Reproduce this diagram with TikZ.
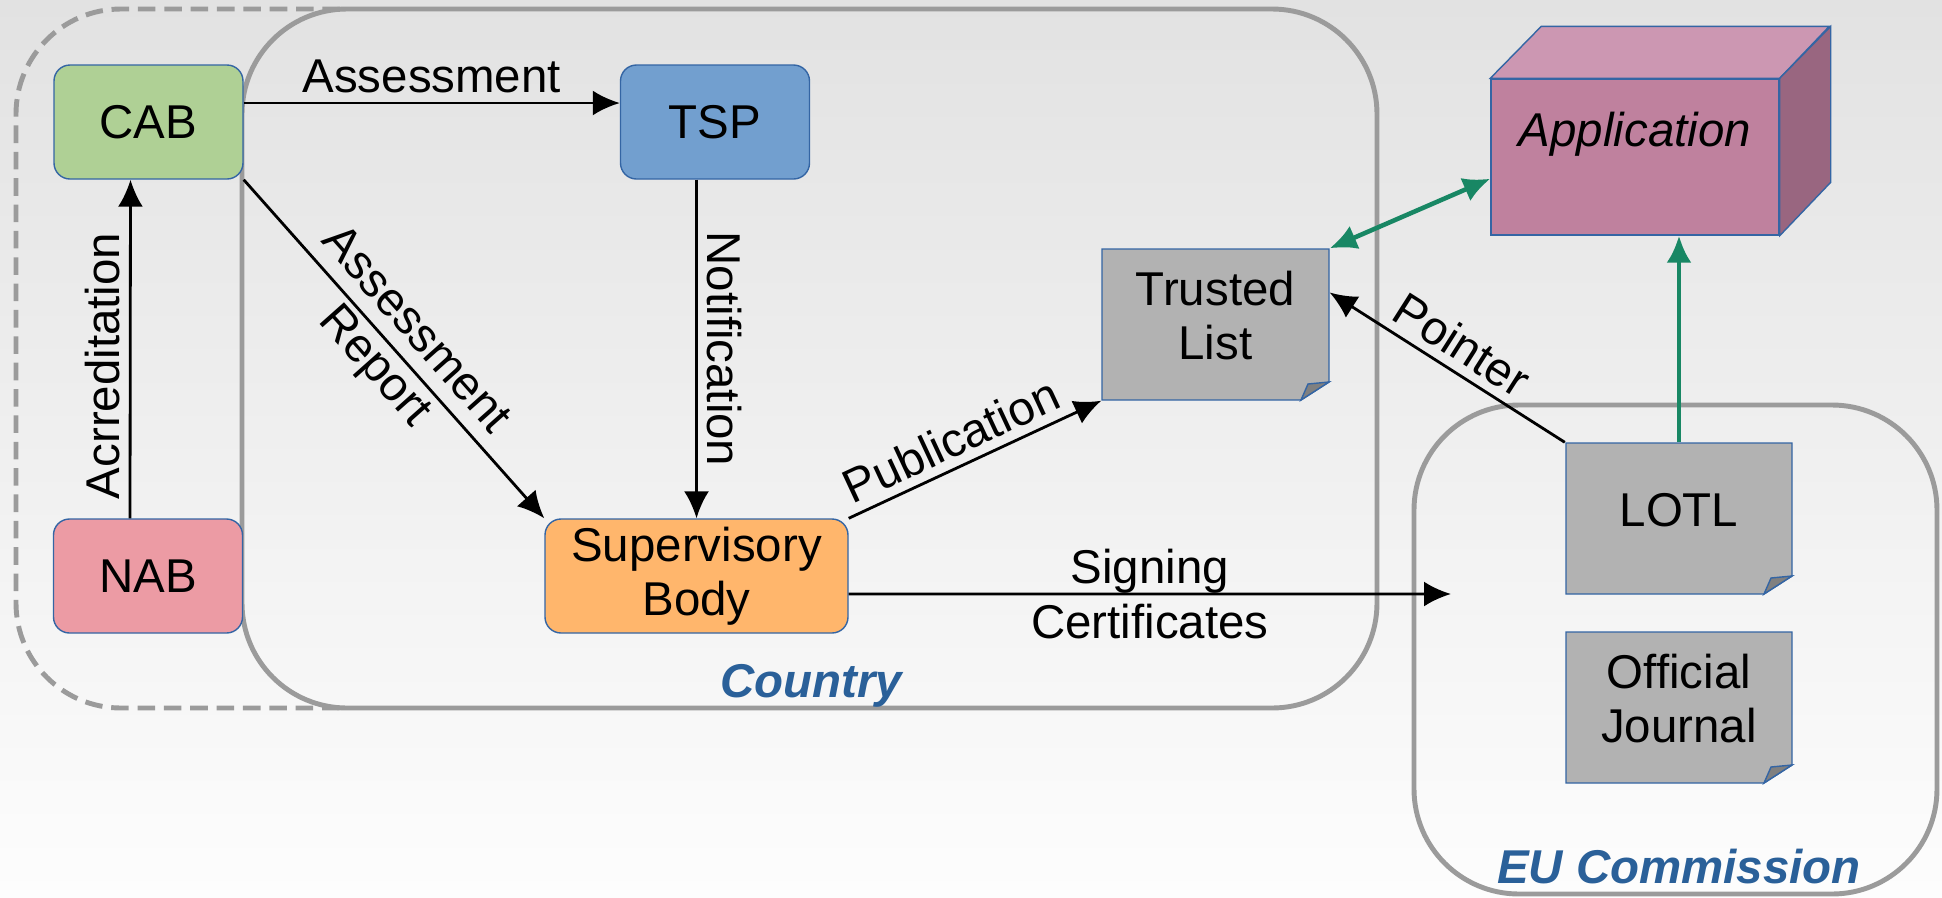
\documentclass[tikz,border=0pt]{standalone}
\usepackage{fontspec}
\setmainfont{Liberation Sans}
\usetikzlibrary{arrows.meta}

\definecolor{bgtop}{RGB}{226,226,226}
\definecolor{bgbot}{RGB}{253,253,253}
\definecolor{framegray}{RGB}{155,155,155}
\definecolor{edgeblue}{RGB}{52,101,164}
\definecolor{cabgreen}{RGB}{175,208,149}
\definecolor{tspblue}{RGB}{114,159,207}
\definecolor{nabred}{RGB}{236,155,164}
\definecolor{sborange}{RGB}{255,182,108}
\definecolor{docgray}{RGB}{178,178,178}
\definecolor{foldgray}{RGB}{128,128,128}
\definecolor{appfront}{RGB}{191,129,158}
\definecolor{apptop}{RGB}{204,151,178}
\definecolor{appside}{RGB}{153,102,128}
\definecolor{linkgreen}{RGB}{24,135,100}
\definecolor{regionblue}{RGB}{42,96,153}

\begin{document}
\begin{tikzpicture}[font=\fontsize{13.5}{15.5}\selectfont,
    >={Latex[length=2.7mm,width=2.5mm]},
    box/.style={draw=edgeblue, line width=0.4pt, rounded corners=0.16cm, minimum width=1.89cm, minimum height=1.14cm, inner sep=0pt, align=center},
    doc/.style={minimum width=2.27cm, minimum height=1.51cm, inner sep=0pt, align=center, text depth=0.18cm},
    region/.style={draw=framegray, line width=1.4pt, rounded corners=1.05cm},
    regionlbl/.style={font=\fontsize{13.5}{15.5}\selectfont\bfseries\itshape, text=regionblue, anchor=base},
    arr/.style={->, line width=0.8pt},
    gline/.style={line width=1.3pt, draw=linkgreen},
    lbl/.style={inner sep=2.5pt}]

    % background
    \shade [top color=bgtop, bottom color=bgbot] (0,0) rectangle (19.42,-8.97);

    % accreditation area and the two regions
    \draw [framegray, line width=1.4pt, dash pattern=on 5pt off 2.5pt, rounded corners=1.05cm]
        (3.40,-0.09) -- (0.16,-0.09) -- (0.16,-7.08) -- (3.40,-7.08);
    \draw [region] (2.42,-0.09) rectangle (13.77,-7.08);
    \draw [region] (14.14,-4.05) rectangle (19.37,-8.94);
    \node [regionlbl] (countrylbl) at (8.11,-6.97) {Country};
    \node [regionlbl] (eulbl) at (16.79,-8.83) {EU Commission};

    % actors
    \node [box, fill=cabgreen] (cab) at (1.485,-1.22) {CAB};
    \node [box, fill=tspblue] (tsp) at (7.15,-1.22) {TSP};
    \node [box, fill=nabred] (nab) at (1.48,-5.76) {NAB};
    \node [box, fill=sborange, minimum width=3.03cm] (sb) at (6.965,-5.76) {Supervisory\\Body};

    % documents
    \filldraw [fill=docgray, draw=edgeblue, line width=0.4pt] (11.02,-2.49) -- (13.29,-2.49) -- (13.29,-3.82) -- (13.01,-4.00) -- (11.02,-4.00) -- cycle;
    \filldraw [fill=foldgray, draw=edgeblue, line width=0.4pt] (13.01,-4.00) -- (13.29,-3.82) -- (13.08,-3.84) -- cycle;
    \node [doc] (tl) at (12.155,-3.245) {Trusted\\List};

    \filldraw [fill=docgray, draw=edgeblue, line width=0.4pt] (15.66,-4.43) -- (17.92,-4.43) -- (17.92,-5.76) -- (17.64,-5.94) -- (15.66,-5.94) -- cycle;
    \filldraw [fill=foldgray, draw=edgeblue, line width=0.4pt] (17.64,-5.94) -- (17.92,-5.76) -- (17.71,-5.78) -- cycle;
    \node [doc] (lotl) at (16.79,-5.185) {LOTL};

    \filldraw [fill=docgray, draw=edgeblue, line width=0.4pt] (15.66,-6.32) -- (17.92,-6.32) -- (17.92,-7.65) -- (17.64,-7.83) -- (15.66,-7.83) -- cycle;
    \filldraw [fill=foldgray, draw=edgeblue, line width=0.4pt] (17.64,-7.83) -- (17.92,-7.65) -- (17.71,-7.67) -- cycle;
    \node [doc] (oj) at (16.79,-7.075) {Official\\Journal};

    % application cube
    \node [draw=edgeblue, line width=0.4pt, fill=appfront, minimum width=2.88cm, minimum height=1.56cm, text depth=0.55cm, font=\fontsize{13.5}{15.5}\selectfont\itshape] (app) at (16.35,-1.57) {Application};
    \filldraw [fill=apptop, draw=edgeblue, line width=0.4pt] (app.north west) -- ++(0.51,0.52) -- ++(2.88,0) -- (app.north east) -- cycle;
    \filldraw [fill=appside, draw=edgeblue, line width=0.4pt] (app.north east) -- ++(0.51,0.52) -- ++(0,-1.56) -- (app.south east) -- cycle;

    % connectors
    \draw [arr] ([yshift=0.19cm]cab.east) -- ([yshift=0.19cm]tsp.west) node [lbl, midway, above] {Assessment};
    \draw [arr] ([xshift=-0.18cm]nab.north) -- ([xshift=-0.18cm]cab.south) node [lbl, pos=0.45, above, sloped] {Acrreditation};
    \draw [arr] (cab.south east) -- (sb.north west) node [midway, sloped, align=center] {Assessment\\Report};
    \draw [arr] (sb.north |- tsp.south) -- (sb.north) node [lbl, midway, above, sloped] {Notification};
    \draw [arr] (sb.north east) -- (tl.south west) node [lbl, pos=0.45, above, sloped] {Publication};
    \draw [arr, <-] ([yshift=0.32cm]tl.east) -- (lotl.north west) node [lbl, midway, above, sloped] {Pointer};
    \coordinate (eutip) at (14.51,-5.94);
    \draw [arr] ([yshift=-0.18cm]sb.east) -- (eutip) node [midway, align=center] {Signing\\Certificates};
    \draw [gline, ->] (lotl.north) -- (lotl.north |- app.south);
    \draw [gline, <->] (tl.north east) -- ([yshift=0.57cm]app.south west);
\end{tikzpicture}
\end{document}
